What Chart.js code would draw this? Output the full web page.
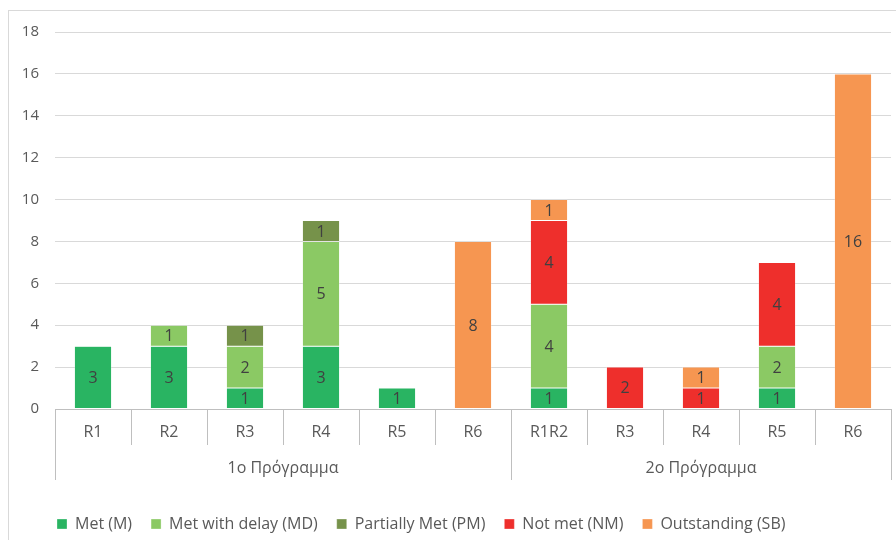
<!DOCTYPE html>
<html>
<head>
<meta charset="utf-8">
<script src="https://cdn.jsdelivr.net/npm/chart.js@4/dist/chart.umd.min.js"></script>
<style>
  html, body { margin: 0; padding: 0; background: #fff; }
  #wrap { position: relative; width: 896px; height: 540px; overflow: hidden; }
  #frame { position: absolute; left: 8px; top: 10px; width: 900px; height: 600px; border: 1px solid #d9d9d9; box-sizing: border-box; }
  canvas { position: absolute; left: 0; top: 0; }
</style>
</head>
<body>
<div id="wrap">
  <div id="frame"></div>
  <canvas id="c" width="896" height="540"></canvas>
</div>
<script>
// Category labels, grouped by programme
const categories = ['R1', 'R2', 'R3', 'R4', 'R5', 'R6', 'R1R2', 'R3', 'R4', 'R5', 'R6'];
const groups = [
  { label: '1o Πρόγραμμα', start: 0, count: 6 },
  { label: '2o Πρόγραμμα', start: 6, count: 5 }
];

// Counts per assessment outcome
const met            = [3, 3, 1, 3, 1, 0, 1, 0, 0, 1, 0];
const metWithDelay   = [0, 1, 2, 5, 0, 0, 4, 0, 0, 2, 0];
const partiallyMet   = [0, 0, 1, 1, 0, 0, 0, 0, 0, 0, 0];
const notMet         = [0, 0, 0, 0, 0, 0, 4, 2, 1, 4, 0];
const outstanding    = [0, 0, 0, 0, 0, 8, 1, 0, 1, 0, 16];

const FONT = "'Open Sans', 'Liberation Sans', sans-serif";
const TEXT = '#595959';

// Value labels centred inside each stacked segment
const segmentLabels = {
  id: 'segmentLabels',
  afterDatasetsDraw(chart) {
    const ctx = chart.ctx;
    ctx.save();
    ctx.font = '16px ' + FONT;
    ctx.fillStyle = '#404040';
    ctx.textAlign = 'center';
    ctx.textBaseline = 'middle';
    chart.data.datasets.forEach((ds, di) => {
      const meta = chart.getDatasetMeta(di);
      if (meta.hidden) return;
      meta.data.forEach((el, i) => {
        const v = ds.data[i];
        if (!v) return;
        ctx.fillText(String(v), el.x, (el.y + el.base) / 2 + 1);
      });
    });
    ctx.restore();
  }
};

// Two-level category axis: separators and programme names
const groupAxis = {
  id: 'groupAxis',
  afterDraw(chart) {
    const ctx = chart.ctx;
    const x = chart.scales.x;
    const y0 = chart.chartArea.bottom;
    const n = categories.length;
    const step = (x.right - x.left) / n;
    const longEdges = new Set([0, n]);
    groups.forEach(g => { longEdges.add(g.start); longEdges.add(g.start + g.count); });
    ctx.save();
    ctx.strokeStyle = '#bfbfbf';
    ctx.lineWidth = 1;
    for (let i = 0; i <= n; i++) {
      const px = Math.round(x.left + i * step) + 0.5;
      ctx.beginPath();
      ctx.moveTo(px, y0);
      ctx.lineTo(px, y0 + (longEdges.has(i) ? 71 : 36));
      ctx.stroke();
    }
    ctx.font = '16px ' + FONT;
    ctx.fillStyle = TEXT;
    ctx.textAlign = 'center';
    ctx.textBaseline = 'middle';
    groups.forEach(g => {
      const cx = x.left + (g.start + g.count / 2) * step;
      ctx.fillText(g.label, cx, y0 + 59);
    });
    ctx.restore();
  }
};

// Indent the legend row so it starts under the plot area
const legendIndent = {
  id: 'legendIndent',
  afterLayout(chart) {
    const lg = chart.legend;
    if (!lg) return;
    lg.left += 28;
    lg.right += 28;
    lg.top += 2;
    lg.bottom += 2;
  }
};

const makeSet = (label, data, color) => ({
  label, data,
  backgroundColor: color,
  borderColor: 'rgba(255,255,255,0.6)',
  borderWidth: 0.5,
  borderSkipped: false,
  categoryPercentage: 1.0,
  barPercentage: 0.49
});

new Chart(document.getElementById('c'), {
  type: 'bar',
  data: {
    labels: categories,
    datasets: [
      makeSet('Met (M)', met, '#29B462'),
      makeSet('Met with delay (MD)', metWithDelay, '#8BC964'),
      makeSet('Partially Met (PM)', partiallyMet, '#76924A'),
      makeSet('Not met (NM)', notMet, '#EE2F2C'),
      makeSet('Outstanding (SB)', outstanding, '#F69651')
    ]
  },
  options: {
    responsive: false,
    animation: false,
    layout: { padding: { left: 10, right: 5, top: 32, bottom: 0 } },
    scales: {
      x: {
        stacked: true,
        grid: { display: false, drawTicks: false },
        border: { display: true, color: '#bfbfbf' },
        ticks: { color: TEXT, font: { family: FONT, size: 16 }, padding: 14, maxRotation: 0, autoSkip: false },
        afterFit(scale) { scale.height = 86; }
      },
      y: {
        stacked: true,
        min: 0, max: 18,
        grid: { color: '#d9d9d9', drawTicks: false },
        border: { display: false },
        ticks: { stepSize: 2, color: TEXT, font: { family: FONT, size: 15 }, padding: 16 },
        afterFit(scale) { scale.width = 45; }
      }
    },
    plugins: {
      legend: {
        position: 'bottom',
        align: 'start',
        labels: {
          color: TEXT,
          font: { family: FONT, size: 16 },
          boxWidth: 10, boxHeight: 10,
          padding: 19,
          useBorderRadius: false
        }
      },
      tooltip: { enabled: false }
    }
  },
  plugins: [segmentLabels, groupAxis, legendIndent]
});
</script>
</body>
</html>
